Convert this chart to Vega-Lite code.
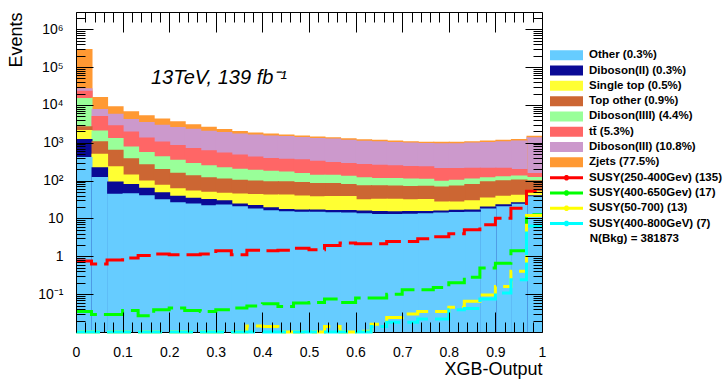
{
  "$schema": "https://vega.github.io/schema/vega-lite/v6.json",
  "width": 466,
  "height": 320,
  "autosize": {"type": "none"},
  "padding": {"left": 76, "top": 12, "right": 181, "bottom": 47},
  "background": "white",
  "title": {
    "text": "13TeV, 139 fb⁻¹",
    "anchor": "start",
    "frame": "group",
    "orient": "top",
    "offset": 0,
    "dx": 75,
    "dy": 92,
    "baseline": "alphabetic",
    "font": "Liberation Sans",
    "fontStyle": "italic",
    "fontWeight": "normal",
    "fontSize": 20,
    "color": "black"
  },
  "datasets": {
    "bkg": [
      {"p":"Other","b":0,"e":0.0333,"n":420},{"p":"Diboson(II)","b":0,"e":0.0333,"n":831},{"p":"Single top","b":0,"e":0.0333,"n":908},{"p":"Top other","b":0,"e":0.0333,"n":586},{"p":"Diboson(IIII)","b":0,"e":0.0333,"n":12560},{"p":"tt\u0304","b":0,"e":0.0333,"n":8470},{"p":"Diboson(III)","b":0,"e":0.0333,"n":3898},{"p":"Zjets","b":0,"e":0.0333,"n":273199},
      {"p":"Other","b":0.0333,"e":0.0667,"n":124},{"p":"Diboson(II)","b":0.0333,"e":0.0667,"n":100},{"p":"Single top","b":0.0333,"e":0.0667,"n":285},{"p":"Top other","b":0.0333,"e":0.0667,"n":585},{"p":"Diboson(IIII)","b":0.0333,"e":0.0667,"n":1026},{"p":"tt\u0304","b":0.0333,"e":0.0667,"n":2961},{"p":"Diboson(III)","b":0.0333,"e":0.0667,"n":2721},{"p":"Zjets","b":0.0333,"e":0.0667,"n":8483},
      {"p":"Other","b":0.0667,"e":0.1,"n":45},{"p":"Diboson(II)","b":0.0667,"e":0.1,"n":49},{"p":"Single top","b":0.0667,"e":0.1,"n":147},{"p":"Top other","b":0.0667,"e":0.1,"n":411},{"p":"Diboson(IIII)","b":0.0667,"e":0.1,"n":675},{"p":"tt\u0304","b":0.0667,"e":0.1,"n":1565},{"p":"Diboson(III)","b":0.0667,"e":0.1,"n":2981},{"p":"Zjets","b":0.0667,"e":0.1,"n":3368},
      {"p":"Other","b":0.1,"e":0.1333,"n":46.5},{"p":"Diboson(II)","b":0.1,"e":0.1333,"n":34.4},{"p":"Single top","b":0.1,"e":0.1333,"n":64},{"p":"Top other","b":0.1,"e":0.1333,"n":246},{"p":"Diboson(IIII)","b":0.1,"e":0.1333,"n":411},{"p":"tt\u0304","b":0.1,"e":0.1333,"n":1176},{"p":"Diboson(III)","b":0.1,"e":0.1333,"n":2274},{"p":"Zjets","b":0.1,"e":0.1333,"n":2574},
      {"p":"Other","b":0.1333,"e":0.1667,"n":41},{"p":"Diboson(II)","b":0.1333,"e":0.1667,"n":24.2},{"p":"Single top","b":0.1333,"e":0.1667,"n":36},{"p":"Top other","b":0.1333,"e":0.1667,"n":170},{"p":"Diboson(IIII)","b":0.1333,"e":0.1667,"n":302},{"p":"tt\u0304","b":0.1333,"e":0.1667,"n":800},{"p":"Diboson(III)","b":0.1333,"e":0.1667,"n":2171},{"p":"Zjets","b":0.1333,"e":0.1667,"n":1780},
      {"p":"Other","b":0.1667,"e":0.2,"n":32},{"p":"Diboson(II)","b":0.1667,"e":0.2,"n":17.2},{"p":"Single top","b":0.1667,"e":0.2,"n":28},{"p":"Top other","b":0.1667,"e":0.2,"n":124},{"p":"Diboson(IIII)","b":0.1667,"e":0.2,"n":236},{"p":"tt\u0304","b":0.1667,"e":0.2,"n":641},{"p":"Diboson(III)","b":0.1667,"e":0.2,"n":1931},{"p":"Zjets","b":0.1667,"e":0.2,"n":1334},
      {"p":"Other","b":0.2,"e":0.2333,"n":27},{"p":"Diboson(II)","b":0.2,"e":0.2333,"n":13},{"p":"Single top","b":0.2,"e":0.2333,"n":22.5},{"p":"Top other","b":0.2,"e":0.2333,"n":99},{"p":"Diboson(IIII)","b":0.2,"e":0.2333,"n":195},{"p":"tt\u0304","b":0.2,"e":0.2333,"n":513},{"p":"Diboson(III)","b":0.2,"e":0.2333,"n":1745},{"p":"Zjets","b":0.2,"e":0.2333,"n":1060},
      {"p":"Other","b":0.2333,"e":0.2667,"n":25},{"p":"Diboson(II)","b":0.2333,"e":0.2667,"n":10.2},{"p":"Single top","b":0.2333,"e":0.2667,"n":19.8},{"p":"Top other","b":0.2333,"e":0.2667,"n":84},{"p":"Diboson(IIII)","b":0.2333,"e":0.2667,"n":155},{"p":"tt\u0304","b":0.2333,"e":0.2667,"n":431},{"p":"Diboson(III)","b":0.2333,"e":0.2667,"n":1634},{"p":"Zjets","b":0.2333,"e":0.2667,"n":740},
      {"p":"Other","b":0.2667,"e":0.3,"n":22.3},{"p":"Diboson(II)","b":0.2667,"e":0.3,"n":10.2},{"p":"Single top","b":0.2667,"e":0.3,"n":18},{"p":"Top other","b":0.2667,"e":0.3,"n":73},{"p":"Diboson(IIII)","b":0.2667,"e":0.3,"n":130},{"p":"tt\u0304","b":0.2667,"e":0.3,"n":378},{"p":"Diboson(III)","b":0.2667,"e":0.3,"n":1458},{"p":"Zjets","b":0.2667,"e":0.3,"n":547},
      {"p":"Other","b":0.3,"e":0.3333,"n":23.3},{"p":"Diboson(II)","b":0.3,"e":0.3333,"n":7},{"p":"Single top","b":0.3,"e":0.3333,"n":17.6},{"p":"Top other","b":0.3,"e":0.3333,"n":65.5},{"p":"Diboson(IIII)","b":0.3,"e":0.3333,"n":112},{"p":"tt\u0304","b":0.3,"e":0.3333,"n":328},{"p":"Diboson(III)","b":0.3,"e":0.3333,"n":1378},{"p":"Zjets","b":0.3,"e":0.3333,"n":393},
      {"p":"Other","b":0.3333,"e":0.3667,"n":21},{"p":"Diboson(II)","b":0.3333,"e":0.3667,"n":4},{"p":"Single top","b":0.3333,"e":0.3667,"n":20.7},{"p":"Top other","b":0.3333,"e":0.3667,"n":60},{"p":"Diboson(IIII)","b":0.3333,"e":0.3667,"n":99},{"p":"tt\u0304","b":0.3333,"e":0.3667,"n":285},{"p":"Diboson(III)","b":0.3333,"e":0.3667,"n":1273},{"p":"Zjets","b":0.3333,"e":0.3667,"n":288},
      {"p":"Other","b":0.3667,"e":0.4,"n":18.4},{"p":"Diboson(II)","b":0.3667,"e":0.4,"n":4.2},{"p":"Single top","b":0.3667,"e":0.4,"n":21.6},{"p":"Top other","b":0.3667,"e":0.4,"n":56.4},{"p":"Diboson(IIII)","b":0.3667,"e":0.4,"n":92},{"p":"tt\u0304","b":0.3667,"e":0.4,"n":241},{"p":"Diboson(III)","b":0.3667,"e":0.4,"n":1226},{"p":"Zjets","b":0.3667,"e":0.4,"n":219},
      {"p":"Other","b":0.4,"e":0.4333,"n":16.5},{"p":"Diboson(II)","b":0.4,"e":0.4333,"n":3.2},{"p":"Single top","b":0.4,"e":0.4333,"n":23.4},{"p":"Top other","b":0.4,"e":0.4333,"n":52.8},{"p":"Diboson(IIII)","b":0.4,"e":0.4333,"n":86},{"p":"tt\u0304","b":0.4,"e":0.4333,"n":213},{"p":"Diboson(III)","b":0.4,"e":0.4333,"n":1166},{"p":"Zjets","b":0.4,"e":0.4333,"n":206},
      {"p":"Other","b":0.4333,"e":0.4667,"n":15.5},{"p":"Diboson(II)","b":0.4333,"e":0.4667,"n":2.4},{"p":"Single top","b":0.4333,"e":0.4667,"n":25.2},{"p":"Top other","b":0.4333,"e":0.4667,"n":52.8},{"p":"Diboson(IIII)","b":0.4333,"e":0.4667,"n":79},{"p":"tt\u0304","b":0.4333,"e":0.4667,"n":204},{"p":"Diboson(III)","b":0.4333,"e":0.4667,"n":1136},{"p":"Zjets","b":0.4333,"e":0.4667,"n":142},
      {"p":"Other","b":0.4667,"e":0.5,"n":15},{"p":"Diboson(II)","b":0.4667,"e":0.5,"n":2.3},{"p":"Single top","b":0.4667,"e":0.5,"n":23.4},{"p":"Top other","b":0.4667,"e":0.5,"n":51.5},{"p":"Diboson(IIII)","b":0.4667,"e":0.5,"n":66},{"p":"tt\u0304","b":0.4667,"e":0.5,"n":207},{"p":"Diboson(III)","b":0.4667,"e":0.5,"n":1060},{"p":"Zjets","b":0.4667,"e":0.5,"n":133},
      {"p":"Other","b":0.5,"e":0.5333,"n":15},{"p":"Diboson(II)","b":0.5,"e":0.5333,"n":2.3},{"p":"Single top","b":0.5,"e":0.5333,"n":21.6},{"p":"Top other","b":0.5,"e":0.5333,"n":47.8},{"p":"Diboson(IIII)","b":0.5,"e":0.5333,"n":57},{"p":"tt\u0304","b":0.5,"e":0.5333,"n":192},{"p":"Diboson(III)","b":0.5,"e":0.5333,"n":1005},{"p":"Zjets","b":0.5,"e":0.5333,"n":126},
      {"p":"Other","b":0.5333,"e":0.5667,"n":14.6},{"p":"Diboson(II)","b":0.5333,"e":0.5667,"n":2.2},{"p":"Single top","b":0.5333,"e":0.5667,"n":22.3},{"p":"Top other","b":0.5333,"e":0.5667,"n":47.8},{"p":"Diboson(IIII)","b":0.5333,"e":0.5667,"n":57},{"p":"tt\u0304","b":0.5333,"e":0.5667,"n":167},{"p":"Diboson(III)","b":0.5333,"e":0.5667,"n":976},{"p":"Zjets","b":0.5333,"e":0.5667,"n":120},
      {"p":"Other","b":0.5667,"e":0.6,"n":14.3},{"p":"Diboson(II)","b":0.5667,"e":0.6,"n":2.5},{"p":"Single top","b":0.5667,"e":0.6,"n":22.3},{"p":"Top other","b":0.5667,"e":0.6,"n":42.8},{"p":"Diboson(IIII)","b":0.5667,"e":0.6,"n":53.5},{"p":"tt\u0304","b":0.5667,"e":0.6,"n":157},{"p":"Diboson(III)","b":0.5667,"e":0.6,"n":917},{"p":"Zjets","b":0.5667,"e":0.6,"n":114},
      {"p":"Other","b":0.6,"e":0.6333,"n":13.7},{"p":"Diboson(II)","b":0.6,"e":0.6333,"n":2.6},{"p":"Single top","b":0.6,"e":0.6333,"n":15.8},{"p":"Top other","b":0.6,"e":0.6333,"n":43.5},{"p":"Diboson(IIII)","b":0.6,"e":0.6333,"n":46.4},{"p":"tt\u0304","b":0.6,"e":0.6333,"n":153},{"p":"Diboson(III)","b":0.6,"e":0.6333,"n":863},{"p":"Zjets","b":0.6,"e":0.6333,"n":107},
      {"p":"Other","b":0.6333,"e":0.6667,"n":13.1},{"p":"Diboson(II)","b":0.6333,"e":0.6667,"n":2.7},{"p":"Single top","b":0.6333,"e":0.6667,"n":17.5},{"p":"Top other","b":0.6333,"e":0.6667,"n":42.3},{"p":"Diboson(IIII)","b":0.6333,"e":0.6667,"n":41.4},{"p":"tt\u0304","b":0.6333,"e":0.6667,"n":146},{"p":"Diboson(III)","b":0.6333,"e":0.6667,"n":834},{"p":"Zjets","b":0.6333,"e":0.6667,"n":102},
      {"p":"Other","b":0.6667,"e":0.7,"n":13.1},{"p":"Diboson(II)","b":0.6667,"e":0.7,"n":2.5},{"p":"Single top","b":0.6667,"e":0.7,"n":17.6},{"p":"Top other","b":0.6667,"e":0.7,"n":41},{"p":"Diboson(IIII)","b":0.6667,"e":0.7,"n":42.8},{"p":"tt\u0304","b":0.6667,"e":0.7,"n":138},{"p":"Diboson(III)","b":0.6667,"e":0.7,"n":797},{"p":"Zjets","b":0.6667,"e":0.7,"n":99},
      {"p":"Other","b":0.7,"e":0.7333,"n":13.4},{"p":"Diboson(II)","b":0.7,"e":0.7333,"n":2.4},{"p":"Single top","b":0.7,"e":0.7333,"n":16.3},{"p":"Top other","b":0.7,"e":0.7333,"n":40},{"p":"Diboson(IIII)","b":0.7,"e":0.7333,"n":41.7},{"p":"tt\u0304","b":0.7,"e":0.7333,"n":131},{"p":"Diboson(III)","b":0.7,"e":0.7333,"n":765},{"p":"Zjets","b":0.7,"e":0.7333,"n":94},
      {"p":"Other","b":0.7333,"e":0.7667,"n":13.7},{"p":"Diboson(II)","b":0.7333,"e":0.7667,"n":2.1},{"p":"Single top","b":0.7333,"e":0.7667,"n":16.8},{"p":"Top other","b":0.7333,"e":0.7667,"n":40},{"p":"Diboson(IIII)","b":0.7333,"e":0.7667,"n":39.2},{"p":"tt\u0304","b":0.7333,"e":0.7667,"n":128},{"p":"Diboson(III)","b":0.7333,"e":0.7667,"n":739},{"p":"Zjets","b":0.7333,"e":0.7667,"n":90},
      {"p":"Other","b":0.7667,"e":0.8,"n":14.3},{"p":"Diboson(II)","b":0.7667,"e":0.8,"n":2},{"p":"Single top","b":0.7667,"e":0.8,"n":11.6},{"p":"Top other","b":0.7667,"e":0.8,"n":42},{"p":"Diboson(IIII)","b":0.7667,"e":0.8,"n":28.9},{"p":"tt\u0304","b":0.7667,"e":0.8,"n":116},{"p":"Diboson(III)","b":0.7667,"e":0.8,"n":757},{"p":"Zjets","b":0.7667,"e":0.8,"n":90},
      {"p":"Other","b":0.8,"e":0.8333,"n":14.8},{"p":"Diboson(II)","b":0.8,"e":0.8333,"n":2.2},{"p":"Single top","b":0.8,"e":0.8333,"n":10.9},{"p":"Top other","b":0.8,"e":0.8333,"n":46},{"p":"Diboson(IIII)","b":0.8,"e":0.8333,"n":30.8},{"p":"tt\u0304","b":0.8,"e":0.8333,"n":110},{"p":"Diboson(III)","b":0.8,"e":0.8333,"n":757},{"p":"Zjets","b":0.8,"e":0.8333,"n":90},
      {"p":"Other","b":0.8333,"e":0.8667,"n":15.1},{"p":"Diboson(II)","b":0.8333,"e":0.8667,"n":2.2},{"p":"Single top","b":0.8333,"e":0.8667,"n":13},{"p":"Top other","b":0.8333,"e":0.8667,"n":51.6},{"p":"Diboson(IIII)","b":0.8333,"e":0.8667,"n":31.1},{"p":"tt\u0304","b":0.8333,"e":0.8667,"n":104},{"p":"Diboson(III)","b":0.8333,"e":0.8667,"n":793},{"p":"Zjets","b":0.8333,"e":0.8667,"n":94},
      {"p":"Other","b":0.8667,"e":0.9,"n":18.2},{"p":"Diboson(II)","b":0.8667,"e":0.9,"n":2.6},{"p":"Single top","b":0.8667,"e":0.9,"n":14.8},{"p":"Top other","b":0.8667,"e":0.9,"n":61},{"p":"Diboson(IIII)","b":0.8667,"e":0.9,"n":26},{"p":"tt\u0304","b":0.8667,"e":0.9,"n":95},{"p":"Diboson(III)","b":0.8667,"e":0.9,"n":836},{"p":"Zjets","b":0.8667,"e":0.9,"n":99},
      {"p":"Other","b":0.9,"e":0.9333,"n":21},{"p":"Diboson(II)","b":0.9,"e":0.9333,"n":2.6},{"p":"Single top","b":0.9,"e":0.9333,"n":16},{"p":"Top other","b":0.9,"e":0.9333,"n":63},{"p":"Diboson(IIII)","b":0.9,"e":0.9333,"n":27.7},{"p":"tt\u0304","b":0.9,"e":0.9333,"n":88},{"p":"Diboson(III)","b":0.9,"e":0.9333,"n":883},{"p":"Zjets","b":0.9,"e":0.9333,"n":102},
      {"p":"Other","b":0.9333,"e":0.9667,"n":24.6},{"p":"Diboson(II)","b":0.9333,"e":0.9667,"n":2.4},{"p":"Single top","b":0.9333,"e":0.9667,"n":15.1},{"p":"Top other","b":0.9333,"e":0.9667,"n":65.2},{"p":"Diboson(IIII)","b":0.9333,"e":0.9667,"n":28.8},{"p":"tt\u0304","b":0.9333,"e":0.9667,"n":67},{"p":"Diboson(III)","b":0.9333,"e":0.9667,"n":940},{"p":"Zjets","b":0.9333,"e":0.9667,"n":107},
      {"p":"Other","b":0.9667,"e":1,"n":38.5},{"p":"Diboson(II)","b":0.9667,"e":1,"n":2.3},{"p":"Single top","b":0.9667,"e":1,"n":11.3},{"p":"Top other","b":0.9667,"e":1,"n":49.8},{"p":"Diboson(IIII)","b":0.9667,"e":1,"n":22},{"p":"tt\u0304","b":0.9667,"e":1,"n":34},{"p":"Diboson(III)","b":0.9667,"e":1,"n":1249},{"p":"Zjets","b":0.9667,"e":1,"n":131}
    ],
    "sig": [
      {"p":"SUSY(250-400Gev)","b":0,"e":0.0333,"n":0.75},{"p":"SUSY(250-400Gev)","b":0.0333,"e":0.0667,"n":0.63},{"p":"SUSY(250-400Gev)","b":0.0667,"e":0.1,"n":0.8},{"p":"SUSY(250-400Gev)","b":0.1,"e":0.1333,"n":0.9},{"p":"SUSY(250-400Gev)","b":0.1333,"e":0.1667,"n":1.05},{"p":"SUSY(250-400Gev)","b":0.1667,"e":0.2,"n":1.15},{"p":"SUSY(250-400Gev)","b":0.2,"e":0.2333,"n":1.1},{"p":"SUSY(250-400Gev)","b":0.2333,"e":0.2667,"n":1.1},{"p":"SUSY(250-400Gev)","b":0.2667,"e":0.3,"n":1.15},{"p":"SUSY(250-400Gev)","b":0.3,"e":0.3333,"n":1.4},{"p":"SUSY(250-400Gev)","b":0.3333,"e":0.3667,"n":1.1},{"p":"SUSY(250-400Gev)","b":0.3667,"e":0.4,"n":1.45},{"p":"SUSY(250-400Gev)","b":0.4,"e":0.4333,"n":1.4},{"p":"SUSY(250-400Gev)","b":0.4333,"e":0.4667,"n":1.45},{"p":"SUSY(250-400Gev)","b":0.4667,"e":0.5,"n":1.63},{"p":"SUSY(250-400Gev)","b":0.5,"e":0.5333,"n":1.49},{"p":"SUSY(250-400Gev)","b":0.5333,"e":0.5667,"n":1.93},{"p":"SUSY(250-400Gev)","b":0.5667,"e":0.6,"n":2.23},{"p":"SUSY(250-400Gev)","b":0.6,"e":0.6333,"n":2.14},{"p":"SUSY(250-400Gev)","b":0.6333,"e":0.6667,"n":2.14},{"p":"SUSY(250-400Gev)","b":0.6667,"e":0.7,"n":2.46},{"p":"SUSY(250-400Gev)","b":0.7,"e":0.7333,"n":2.46},{"p":"SUSY(250-400Gev)","b":0.7333,"e":0.7667,"n":2.9},{"p":"SUSY(250-400Gev)","b":0.7667,"e":0.8,"n":3.27},{"p":"SUSY(250-400Gev)","b":0.8,"e":0.8333,"n":3.93},{"p":"SUSY(250-400Gev)","b":0.8333,"e":0.8667,"n":5},{"p":"SUSY(250-400Gev)","b":0.8667,"e":0.9,"n":6.8},{"p":"SUSY(250-400Gev)","b":0.9,"e":0.9333,"n":10.2},{"p":"SUSY(250-400Gev)","b":0.9333,"e":0.9667,"n":18.7},{"p":"SUSY(250-400Gev)","b":0.9667,"e":1,"n":52.3},
      {"p":"SUSY(400-650Gev)","b":0,"e":0.0333,"n":0.035},{"p":"SUSY(400-650Gev)","b":0.0333,"e":0.0667,"n":0.029},{"p":"SUSY(400-650Gev)","b":0.0667,"e":0.1,"n":0.029},{"p":"SUSY(400-650Gev)","b":0.1,"e":0.1333,"n":0.037},{"p":"SUSY(400-650Gev)","b":0.1333,"e":0.1667,"n":0.027},{"p":"SUSY(400-650Gev)","b":0.1667,"e":0.2,"n":0.039},{"p":"SUSY(400-650Gev)","b":0.2,"e":0.2333,"n":0.043},{"p":"SUSY(400-650Gev)","b":0.2333,"e":0.2667,"n":0.037},{"p":"SUSY(400-650Gev)","b":0.2667,"e":0.3,"n":0.035},{"p":"SUSY(400-650Gev)","b":0.3,"e":0.3333,"n":0.039},{"p":"SUSY(400-650Gev)","b":0.3333,"e":0.3667,"n":0.043},{"p":"SUSY(400-650Gev)","b":0.3667,"e":0.4,"n":0.049},{"p":"SUSY(400-650Gev)","b":0.4,"e":0.4333,"n":0.056},{"p":"SUSY(400-650Gev)","b":0.4333,"e":0.4667,"n":0.047},{"p":"SUSY(400-650Gev)","b":0.4667,"e":0.5,"n":0.058},{"p":"SUSY(400-650Gev)","b":0.5,"e":0.5333,"n":0.06},{"p":"SUSY(400-650Gev)","b":0.5333,"e":0.5667,"n":0.074},{"p":"SUSY(400-650Gev)","b":0.5667,"e":0.6,"n":0.06},{"p":"SUSY(400-650Gev)","b":0.6,"e":0.6333,"n":0.079},{"p":"SUSY(400-650Gev)","b":0.6333,"e":0.6667,"n":0.079},{"p":"SUSY(400-650Gev)","b":0.6667,"e":0.7,"n":0.1},{"p":"SUSY(400-650Gev)","b":0.7,"e":0.7333,"n":0.13},{"p":"SUSY(400-650Gev)","b":0.7333,"e":0.7667,"n":0.13},{"p":"SUSY(400-650Gev)","b":0.7667,"e":0.8,"n":0.15},{"p":"SUSY(400-650Gev)","b":0.8,"e":0.8333,"n":0.2},{"p":"SUSY(400-650Gev)","b":0.8333,"e":0.8667,"n":0.28},{"p":"SUSY(400-650Gev)","b":0.8667,"e":0.9,"n":0.49},{"p":"SUSY(400-650Gev)","b":0.9,"e":0.9333,"n":0.66},{"p":"SUSY(400-650Gev)","b":0.9333,"e":0.9667,"n":1.4},{"p":"SUSY(400-650Gev)","b":0.9667,"e":1,"n":12.5},
      {"p":"SUSY(50-700)","b":0,"e":0.0333,"n":0.005},{"p":"SUSY(50-700)","b":0.0333,"e":0.0667,"n":0.005},{"p":"SUSY(50-700)","b":0.0667,"e":0.1,"n":0.005},{"p":"SUSY(50-700)","b":0.1,"e":0.1333,"n":0.005},{"p":"SUSY(50-700)","b":0.1333,"e":0.1667,"n":0.005},{"p":"SUSY(50-700)","b":0.1667,"e":0.2,"n":0.005},{"p":"SUSY(50-700)","b":0.2,"e":0.2333,"n":0.005},{"p":"SUSY(50-700)","b":0.2333,"e":0.2667,"n":0.005},{"p":"SUSY(50-700)","b":0.2667,"e":0.3,"n":0.005},{"p":"SUSY(50-700)","b":0.3,"e":0.3333,"n":0.005},{"p":"SUSY(50-700)","b":0.3333,"e":0.3667,"n":0.005},{"p":"SUSY(50-700)","b":0.3667,"e":0.4,"n":0.0145},{"p":"SUSY(50-700)","b":0.4,"e":0.4333,"n":0.014},{"p":"SUSY(50-700)","b":0.4333,"e":0.4667,"n":0.005},{"p":"SUSY(50-700)","b":0.4667,"e":0.5,"n":0.009},{"p":"SUSY(50-700)","b":0.5,"e":0.5333,"n":0.005},{"p":"SUSY(50-700)","b":0.5333,"e":0.5667,"n":0.014},{"p":"SUSY(50-700)","b":0.5667,"e":0.6,"n":0.008},{"p":"SUSY(50-700)","b":0.6,"e":0.6333,"n":0.0105},{"p":"SUSY(50-700)","b":0.6333,"e":0.6667,"n":0.016},{"p":"SUSY(50-700)","b":0.6667,"e":0.7,"n":0.024},{"p":"SUSY(50-700)","b":0.7,"e":0.7333,"n":0.03},{"p":"SUSY(50-700)","b":0.7333,"e":0.7667,"n":0.035},{"p":"SUSY(50-700)","b":0.7667,"e":0.8,"n":0.035},{"p":"SUSY(50-700)","b":0.8,"e":0.8333,"n":0.045},{"p":"SUSY(50-700)","b":0.8333,"e":0.8667,"n":0.065},{"p":"SUSY(50-700)","b":0.8667,"e":0.9,"n":0.095},{"p":"SUSY(50-700)","b":0.9,"e":0.9333,"n":0.16},{"p":"SUSY(50-700)","b":0.9333,"e":0.9667,"n":0.4},{"p":"SUSY(50-700)","b":0.9667,"e":1,"n":12},
      {"p":"SUSY(400-800GeV)","b":0,"e":0.0333,"n":0.005},{"p":"SUSY(400-800GeV)","b":0.0333,"e":0.0667,"n":0.005},{"p":"SUSY(400-800GeV)","b":0.0667,"e":0.1,"n":0.005},{"p":"SUSY(400-800GeV)","b":0.1,"e":0.1333,"n":0.005},{"p":"SUSY(400-800GeV)","b":0.1333,"e":0.1667,"n":0.005},{"p":"SUSY(400-800GeV)","b":0.1667,"e":0.2,"n":0.005},{"p":"SUSY(400-800GeV)","b":0.2,"e":0.2333,"n":0.005},{"p":"SUSY(400-800GeV)","b":0.2333,"e":0.2667,"n":0.005},{"p":"SUSY(400-800GeV)","b":0.2667,"e":0.3,"n":0.005},{"p":"SUSY(400-800GeV)","b":0.3,"e":0.3333,"n":0.005},{"p":"SUSY(400-800GeV)","b":0.3333,"e":0.3667,"n":0.005},{"p":"SUSY(400-800GeV)","b":0.3667,"e":0.4,"n":0.005},{"p":"SUSY(400-800GeV)","b":0.4,"e":0.4333,"n":0.005},{"p":"SUSY(400-800GeV)","b":0.4333,"e":0.4667,"n":0.005},{"p":"SUSY(400-800GeV)","b":0.4667,"e":0.5,"n":0.005},{"p":"SUSY(400-800GeV)","b":0.5,"e":0.5333,"n":0.005},{"p":"SUSY(400-800GeV)","b":0.5333,"e":0.5667,"n":0.005},{"p":"SUSY(400-800GeV)","b":0.5667,"e":0.6,"n":0.005},{"p":"SUSY(400-800GeV)","b":0.6,"e":0.6333,"n":0.005},{"p":"SUSY(400-800GeV)","b":0.6333,"e":0.6667,"n":0.014},{"p":"SUSY(400-800GeV)","b":0.6667,"e":0.7,"n":0.018},{"p":"SUSY(400-800GeV)","b":0.7,"e":0.7333,"n":0.018},{"p":"SUSY(400-800GeV)","b":0.7333,"e":0.7667,"n":0.022},{"p":"SUSY(400-800GeV)","b":0.7667,"e":0.8,"n":0.022},{"p":"SUSY(400-800GeV)","b":0.8,"e":0.8333,"n":0.039},{"p":"SUSY(400-800GeV)","b":0.8333,"e":0.8667,"n":0.042},{"p":"SUSY(400-800GeV)","b":0.8667,"e":0.9,"n":0.074},{"p":"SUSY(400-800GeV)","b":0.9,"e":0.9333,"n":0.107},{"p":"SUSY(400-800GeV)","b":0.9333,"e":0.9667,"n":0.24},{"p":"SUSY(400-800GeV)","b":0.9667,"e":1,"n":6.3}
    ]
  },
  "layer": [
    {
      "data": {"name": "bkg"},
      "transform": [{"stack": "n", "groupby": ["b"], "as": ["c0", "c1"]}],
      "mark": {"type": "bar", "x2Offset": 1},
      "encoding": {
        "x": {
          "field": "b", "type": "quantitative",
          "scale": {"domain": [0, 1], "nice": false, "zero": false},
          "axis": {
            "orient": "bottom",
            "values": [0, 0.1, 0.2, 0.3, 0.4, 0.5, 0.6, 0.7, 0.8, 0.9, 1],
            "format": "~g",
            "ticks": false, "domain": true, "domainColor": "black", "domainWidth": 1,
            "labelPadding": 13, "labelFlush": false, "labelOverlap": false,
            "title": "XGB-Output", "titleAnchor": "end", "titleAlign": "right", "titleBaseline": "alphabetic",
            "titleX": 466, "titleY": 42, "zindex": 0
          }
        },
        "x2": {"field": "e"},
        "y": {
          "field": "c1", "type": "quantitative", "stack": null,
          "scale": {"type": "log", "domain": [0.01, 2850000], "nice": false, "clamp": true},
          "axis": {
            "orient": "left",
            "values": [0.1, 1, 10, 100, 1000, 10000, 100000, 1000000],
            "labelExpr": "{'0.1':'10⁻¹','1':'1','10':'10','100':'10²','1000':'10³','10000':'10⁴','100000':'10⁵','1000000':'10⁶'}['' + datum.value]",
            "ticks": false, "domain": false,
            "labelPadding": 13, "labelFlush": false, "labelOverlap": false,
            "title": "Events", "titleAngle": 270, "titleAnchor": "end", "titleAlign": "right", "titleBaseline": "alphabetic",
            "titleX": -55, "titleY": 0, "zindex": 0
          }
        },
        "y2": {"datum": 0.01},
        "color": {
          "field": "p", "type": "nominal",
          "scale": {
            "domain": ["Other", "Diboson(II)", "Single top", "Top other", "Diboson(IIII)", "tt\u0304", "Diboson(III)", "Zjets", "SUSY(250-400Gev)", "SUSY(400-650Gev)", "SUSY(50-700)", "SUSY(400-800GeV)"],
            "range": ["#66ccff", "#0a0a96", "#ffff33", "#cc6633", "#99ff99", "#ff6666", "#cc99cc", "#ff9933", "#ff0000", "#00ff00", "#ffff00", "#00ffff"]
          },
          "legend": {
            "orient": "none", "legendX": 484.75, "legendY": 37.5, "padding": 0, "rowPadding": 2.3,
            "title": "N(Bkg) = 381873", "titleOrient": "bottom", "titleAnchor": "start", "titlePadding": 3,
            "titleFont": "Liberation Sans", "titleFontWeight": "bold", "titleFontSize": 11.5, "titleColor": "black", "titleLimit": 0,
            "labelFont": "Liberation Sans", "labelFontWeight": "bold", "labelFontSize": 11.5, "labelColor": "black", "labelLimit": 0,
            "labelOffset": 16.75, "symbolSize": 100, "symbolStrokeWidth": 0,
            "labelExpr": "{'Other':'Other (0.3%)','Diboson(II)':'Diboson(II) (0.3%)','Single top':'Single top (0.5%)','Top other':'Top other (0.9%)','Diboson(IIII)':'Diboson(IIII) (4.4%)','tt\u0304':'tt\u0304 (5.3%)','Diboson(III)':'Diboson(III) (10.8%)','Zjets':'Zjets (77.5%)','SUSY(250-400Gev)':'SUSY(250-400Gev) (135)','SUSY(400-650Gev)':'SUSY(400-650Gev) (17)','SUSY(50-700)':'SUSY(50-700) (13)','SUSY(400-800GeV)':'SUSY(400-800GeV) (7)'}[datum.label]",
            "encoding": {
              "symbols": {
                "shape": {"value": {"expr": "datum.index < 8 ? 'M-3.3,-1H3.3V1H-3.3Z' : 'M-3.3,-0.3H-0.461A0.55,0.55 0 0 1 0.461,-0.3H3.3V0.3H0.461A0.55,0.55 0 0 1 -0.461,0.3H-3.3Z'"}},
                "fill": {"value": {"expr": "{gradient: 'radial', x1: 0.5, y1: 0.5, r1: 0, x2: 0.5, y2: 0.5, r2: datum.index < 8 ? 0.025 : 0.0833, stops: [{offset: 0, color: 'black'}, {offset: 0.98, color: 'black'}, {offset: 1, color: scale('color', datum.value)}]}"}},
                "stroke": {"value": "transparent"},
                "strokeWidth": {"value": 0},
                "size": {"value": 100},
                "opacity": {"value": 1}
              },
              "title": {"dx": {"value": 29}}
            }
          }
        },
        "order": {"field": "c1", "sort": "descending"}
      }
    },
    {
      "data": {"name": "sig"},
      "transform": [
        {"filter": {"field": "p", "oneOf": ["SUSY(250-400Gev)", "SUSY(400-650Gev)"]}},
        {"fold": ["b", "e"], "as": ["edge", "xe"]}
      ],
      "mark": {"type": "line", "strokeWidth": 3, "strokeDash": [24, 7], "strokeCap": "butt"},
      "encoding": {
        "x": {
          "field": "xe", "type": "quantitative",
          "axis": {
            "orient": "bottom",
            "values": [0,0.02,0.04,0.06,0.08,0.1,0.12,0.14,0.16,0.18,0.2,0.22,0.24,0.26,0.28,0.3,0.32,0.34,0.36,0.38,0.4,0.42,0.44,0.46,0.48,0.5,0.52,0.54,0.56,0.58,0.6,0.62,0.64,0.66,0.68,0.7,0.72,0.74,0.76,0.78,0.8,0.82,0.84,0.86,0.88,0.9,0.92,0.94,0.96,0.98,1],
            "labels": false, "domain": false, "ticks": true, "tickColor": "black", "tickWidth": 1,
            "tickSize": {"condition": {"test": "abs(datum.value * 10 - round(datum.value * 10)) < 0.01", "value": -20}, "value": -10},
            "title": null, "zindex": 1
          }
        },
        "y": {
          "field": "n", "type": "quantitative",
          "axis": {
            "orient": "left",
            "values": [0.02,0.03,0.04,0.05,0.06,0.07,0.08,0.09,0.1,0.2,0.3,0.4,0.5,0.6,0.7,0.8,0.9,1,2,3,4,5,6,7,8,9,10,20,30,40,50,60,70,80,90,100,200,300,400,500,600,700,800,900,1000,2000,3000,4000,5000,6000,7000,8000,9000,10000,20000,30000,40000,50000,60000,70000,80000,90000,100000,200000,300000,400000,500000,600000,700000,800000,900000,1000000,2000000],
            "labels": false, "domain": true, "domainColor": "black", "domainWidth": 1, "ticks": true, "tickColor": "black", "tickWidth": 1,
            "tickSize": {"condition": {"test": "abs(log(datum.value) / LN10 - round(log(datum.value) / LN10)) < 0.01", "value": -17}, "value": -9},
            "title": null, "zindex": 1
          }
        },
        "color": {"field": "p", "type": "nominal"},
        "order": [{"field": "xe", "sort": "ascending"}, {"field": "edge", "sort": "descending"}]
      }
    },
    {
      "data": {"name": "sig"},
      "transform": [
        {"filter": {"field": "p", "oneOf": ["SUSY(50-700)", "SUSY(400-800GeV)"]}},
        {"fold": ["b", "e"], "as": ["edge", "xe"]}
      ],
      "mark": {"type": "line", "strokeWidth": 3, "strokeDash": [24, 7], "strokeCap": "butt"},
      "encoding": {
        "x": {
          "field": "xe", "type": "quantitative",
          "axis": {
            "orient": "top",
            "values": [0,0.02,0.04,0.06,0.08,0.1,0.12,0.14,0.16,0.18,0.2,0.22,0.24,0.26,0.28,0.3,0.32,0.34,0.36,0.38,0.4,0.42,0.44,0.46,0.48,0.5,0.52,0.54,0.56,0.58,0.6,0.62,0.64,0.66,0.68,0.7,0.72,0.74,0.76,0.78,0.8,0.82,0.84,0.86,0.88,0.9,0.92,0.94,0.96,0.98,1],
            "labels": false, "domain": true, "domainColor": "black", "domainWidth": 1, "ticks": true, "tickColor": "black", "tickWidth": 1,
            "tickSize": {"condition": {"test": "abs(datum.value * 10 - round(datum.value * 10)) < 0.01", "value": -20}, "value": -10},
            "title": null, "zindex": 1
          }
        },
        "y": {
          "field": "n", "type": "quantitative",
          "axis": {
            "orient": "right",
            "values": [0.02,0.03,0.04,0.05,0.06,0.07,0.08,0.09,0.1,0.2,0.3,0.4,0.5,0.6,0.7,0.8,0.9,1,2,3,4,5,6,7,8,9,10,20,30,40,50,60,70,80,90,100,200,300,400,500,600,700,800,900,1000,2000,3000,4000,5000,6000,7000,8000,9000,10000,20000,30000,40000,50000,60000,70000,80000,90000,100000,200000,300000,400000,500000,600000,700000,800000,900000,1000000,2000000],
            "labels": false, "domain": true, "domainColor": "black", "domainWidth": 1, "ticks": true, "tickColor": "black", "tickWidth": 1,
            "tickSize": {"condition": {"test": "abs(log(datum.value) / LN10 - round(log(datum.value) / LN10)) < 0.01", "value": -17}, "value": -9},
            "title": null, "zindex": 1
          }
        },
        "color": {"field": "p", "type": "nominal"},
        "order": [{"field": "xe", "sort": "ascending"}, {"field": "edge", "sort": "descending"}]
      }
    }
  ],
  "resolve": {"axis": {"x": "independent", "y": "independent"}},
  "config": {
    "font": "Liberation Sans",
    "view": {"stroke": null},
    "axis": {
      "grid": false,
      "labelFont": "Liberation Sans", "labelFontSize": 14, "labelColor": "black",
      "tickColor": "black", "domainColor": "black",
      "titleFont": "Liberation Sans", "titleFontSize": 18, "titleFontWeight": "normal", "titleColor": "black"
    }
  }
}
